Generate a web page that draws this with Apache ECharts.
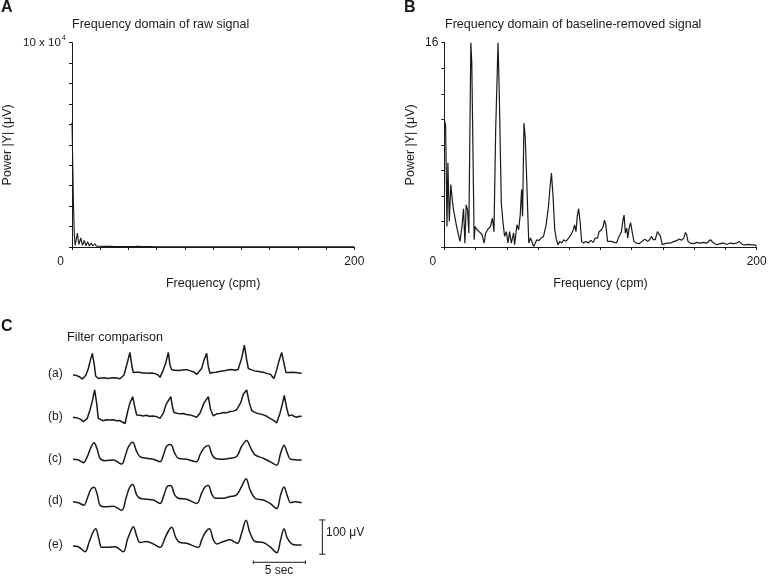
<!DOCTYPE html>
<html>
<head>
<meta charset="utf-8">
<script src="https://cdn.jsdelivr.net/npm/echarts@6/dist/echarts.min.js"></script>
<style>
html,body{margin:0;padding:0;background:#fff;}
#chart{width:770px;height:576px;}
</style>
</head>
<body>
<div id="chart"></div>
<script>
// ---------- DATA ----------
// Panel A: raw spectrum, [frequency (cpm), power (x10^4 µV)]
const rawSpectrum = [[0,6.1],[0.5,4.2],[1.0,2.2],[1.6,0.7],[2.2,0.08],[3.0,0.35],[3.8,0.68],[4.9,0.12],[6.2,0.45],[7.4,0.08],[8.7,0.32],[9.9,0.06],[11.1,0.26],[12.3,0.05],[13.5,0.2],[14.8,0.05],[16.1,0.16],[17.3,0.04],[18.6,0.13],[19.9,0.04],[21.2,0.11],[22.4,0.03],[23.7,0.1],[25.0,0.03],[26.3,0.08],[27.6,0.03],[28.9,0.07],[30.2,0.02],[31.5,0.06],[32.8,0.02],[34.1,0.05],[35.4,0.02],[36.7,0.04],[38,0.02],[39.3,0.04],[40.6,0.02],[42,0.03],[44,0.02],[46,0.03],[50,0.02],[55,0.02],[60,0.015],[70,0.01],[90,0.01],[120,0.01],[160,0.01],[200,0.01]];

// Panel B: baseline-removed spectrum, [frequency (cpm), power (µV)]
const cleanSpectrum = [[0,10.0],[0.85,9.5],[1.7,1.6],[2.3,6.6],[3.2,2.0],[4.2,4.9],[5.1,3.7],[5.9,2.9],[6.8,2.8],[7.9,1.6],[10.0,0.44],[11.3,1.6],[12.3,3.0],[13.2,0.3],[14.0,3.3],[14.9,2.9],[15.7,1.1],[17.0,16],[17.6,14.4],[19.1,0.57],[19.7,1.6],[21.0,1.35],[22.3,1.2],[23.4,1.35],[24.2,0.96],[25.5,0.31],[26.5,1.1],[28.0,1.4],[29.5,1.6],[30.8,2.26],[31.8,1.2],[32.9,9.2],[34.4,16],[35.2,12],[36.5,3.4],[37.6,1.9],[38.6,0.83],[39.7,1.2],[40.8,0.31],[41.8,1.2],[42.9,0.31],[44.4,1.1],[45.0,0.18],[46.5,1.74],[47.6,1.35],[48.6,2.5],[49.5,4.5],[50.1,2.4],[51.0,9.7],[51.8,8.6],[52.7,5.5],[53.5,2.4],[54.1,0.31],[55.2,0.7],[56.3,0.57],[57.1,0.05],[58.2,0.3],[59.2,0.57],[60.5,0.5],[62.0,0.7],[63.5,0.83],[65.2,1.74],[66.7,3.2],[67.7,4.7],[68.6,5.8],[69.6,4.0],[70.7,1.35],[71.8,0.57],[72.8,0.18],[73.9,0.44],[75.2,0.31],[76.4,0.57],[77.9,0.44],[79.6,0.7],[81.1,0.96],[82.6,1.35],[83.4,1.74],[84.3,1.2],[85.1,2.4],[86.0,3.0],[87.0,1.9],[87.9,0.44],[89.2,0.31],[90.7,0.44],[92.1,0.31],[93.8,0.52],[95.3,0.36],[96.6,0.7],[98.1,0.7],[99.1,1.2],[100.6,1.35],[101.7,1.6],[102.5,2.1],[103.4,1.74],[104.5,0.44],[105.5,0.31],[107.0,0.44],[108.7,0.36],[110.2,0.31],[111.9,0.83],[113.4,1.2],[114.4,2.1],[115.1,2.5],[115.9,1.1],[116.8,1.48],[117.4,0.7],[118.5,1.6],[119.3,1.9],[120.4,1.1],[121.4,0.44],[122.9,0.31],[124.6,0.26],[126.7,0.44],[128.4,0.62],[129.3,0.7],[130.1,0.44],[131.4,0.57],[132.7,0.83],[133.7,0.57],[135.0,0.57],[136.5,1.2],[137.4,1.35],[138.4,0.83],[139.5,0.18],[141.2,0.26],[142.9,0.31],[144.8,0.31],[146.9,0.42],[149.0,0.52],[150.5,0.62],[151.8,0.52],[153.3,0.7],[154.4,1.14],[155.2,0.96],[156.0,0.44],[157.5,0.31],[159.7,0.26],[161.8,0.36],[163.9,0.31],[166.0,0.36],[168.1,0.31],[170.4,0.57],[171.3,0.62],[172.4,0.31],[174.5,0.18],[176.6,0.26],[178.8,0.31],[180.9,0.2],[183.0,0.31],[185.1,0.26],[187.3,0.31],[188.8,0.44],[189.8,0.52],[190.9,0.18],[192.6,0.16],[194.7,0.2],[196.8,0.16],[198.9,0.16],[200,0.05]];

// Panel C: filtered time traces, [time (s), amplitude (µV)]
const traceA = [[0,0],[0.15,-2],[0.3,-1],[0.45,-6],[0.6,-5],[0.75,-9],[0.9,-12],[0.99,-15],[1.24,0],[1.47,19],[1.63,39],[1.85,63],[2.04,29],[2.17,-3],[2.42,-10],[2.55,-6],[2.7,-9],[2.85,-5],[3.0,-8],[3.15,-6],[3.3,-10],[3.45,-7],[3.6,-9],[3.75,-6],[3.9,-8],[4.05,-5],[4.2,-9],[4.35,-7],[4.5,-11],[4.66,-15],[4.88,0],[5.14,29],[5.45,66],[5.65,24],[5.77,7],[5.9,10],[6.05,8],[6.2,11],[6.35,8],[6.5,10],[6.65,6],[6.8,9],[6.95,6],[7.1,8],[7.25,5],[7.4,9],[7.55,6],[7.7,8],[7.85,4],[8.0,5],[8.15,0],[8.33,-7],[8.64,15],[8.87,34],[9.12,66],[9.28,29],[9.44,15],[9.6,12],[9.75,14],[9.9,11],[10.05,13],[10.2,11],[10.35,14],[10.5,12],[10.65,15],[10.8,13],[10.95,15],[11.1,11],[11.25,12],[11.4,8],[11.55,9],[11.7,5],[11.85,2],[11.99,-3],[12.31,19],[12.54,44],[12.79,63],[12.95,24],[13.11,5],[13.25,9],[13.4,7],[13.55,10],[13.7,8],[13.85,12],[14.0,10],[14.15,14],[14.3,12],[14.45,15],[14.6,13],[14.75,17],[14.9,15],[15.05,19],[15.2,16],[15.35,18],[15.5,14],[15.66,13],[15.8,16],[15.92,19],[16.14,49],[16.4,87],[16.62,44],[16.78,19],[16.95,14],[17.1,15],[17.25,11],[17.4,12],[17.55,9],[17.7,11],[17.85,7],[18.0,9],[18.15,5],[18.3,7],[18.45,3],[18.6,4],[18.75,1],[18.9,2],[19.05,-4],[19.23,-10],[19.49,15],[19.74,44],[19.97,66],[20.19,34],[20.38,7],[20.55,4],[20.7,7],[20.85,5],[21.0,8],[21.15,5],[21.3,7],[21.45,4],[21.6,6],[21.75,4],[21.88,5]];
const traceB = [[0,0],[0.25,-1],[0.51,-3],[0.75,-6],[0.99,-13],[1.37,-3],[1.63,22],[1.85,47],[2.07,80],[2.26,42],[2.42,-3],[2.6,-7],[2.9,-10],[3.2,-7],[3.54,-8],[3.85,-7],[4.18,-10],[4.45,-9],[4.66,-13],[4.98,-18],[5.23,17],[5.45,42],[5.71,60],[5.90,32],[6.09,7],[6.4,6],[6.73,4],[7.0,6],[7.3,3],[7.69,4],[8.0,2],[8.33,-3],[8.64,12],[8.90,37],[9.35,60],[9.54,27],[9.67,14],[9.95,12],[10.24,10],[10.55,11],[10.85,8],[11.20,7],[11.5,4],[11.83,0],[12.15,12],[12.54,42],[12.95,60],[13.17,22],[13.43,4],[13.75,10],[14.05,11],[14.39,14],[14.7,13],[15.02,17],[15.35,18],[15.66,22],[16.04,42],[16.30,67],[16.62,80],[16.87,42],[17.10,20],[17.35,15],[17.58,12],[17.9,10],[18.21,7],[18.55,3],[18.85,-3],[19.2,-9],[19.49,-16],[19.81,12],[20.06,42],[20.22,64],[20.45,27],[20.64,4],[20.93,7],[21.15,3],[21.40,0],[21.65,3],[21.88,2]];
const traceC = [[0,0],[0.51,-2],[0.99,-10],[1.37,8],[1.69,33],[2.01,48],[2.33,28],[2.58,3],[3.06,-4],[3.86,-2],[4.66,-14],[4.98,8],[5.30,36],[5.71,50],[6.09,23],[6.41,8],[7.05,3],[7.69,0],[8.33,-7],[8.71,18],[8.96,38],[9.35,43],[9.73,18],[10.08,3],[10.88,0],[11.83,-7],[12.15,13],[12.54,33],[12.95,40],[13.27,16],[13.59,3],[14.39,0],[15.02,3],[15.66,8],[16.14,38],[16.62,55],[17.00,33],[17.42,13],[18.21,3],[18.85,-7],[19.49,-17],[19.87,18],[20.19,41],[20.51,18],[20.83,0],[21.88,-2]];
const traceD = [[0,0],[0.51,-3],[1.05,-10],[1.37,10],[1.69,35],[2.01,42],[2.33,20],[2.58,-10],[3.06,-15],[3.86,-13],[4.66,-25],[5.07,10],[5.39,40],[5.71,50],[6.09,20],[6.41,10],[7.05,7],[7.69,5],[8.33,-5],[8.71,20],[9.03,45],[9.35,47],[9.73,20],[10.08,10],[10.88,7],[11.83,-5],[12.31,25],[12.63,43],[12.95,47],[13.27,23],[13.59,10],[14.39,10],[15.02,15],[15.66,20],[16.14,45],[16.56,67],[16.94,35],[17.42,10],[18.21,5],[18.85,-5],[19.49,-20],[19.87,20],[20.19,43],[20.51,17],[20.83,-3],[21.24,0],[21.88,-3]];
const traceE = [[0,0],[0.51,-2],[1.15,-17],[1.56,13],[1.88,38],[2.17,50],[2.46,23],[2.74,-4],[3.22,-4],[4.02,-2],[4.82,-17],[5.20,18],[5.52,43],[5.77,56],[6.09,30],[6.41,10],[7.05,13],[7.69,6],[8.33,-4],[8.80,23],[9.12,43],[9.44,55],[9.86,23],[10.24,10],[10.88,8],[11.99,-4],[12.31,18],[12.63,38],[13.05,50],[13.43,18],[13.75,6],[14.39,13],[15.02,18],[15.73,8],[16.14,38],[16.56,75],[16.94,38],[17.42,13],[18.21,10],[18.85,-2],[19.49,-20],[19.87,18],[20.19,50],[20.51,23],[20.93,6],[21.40,3],[21.88,3]];

const traceLabels = ['(a)','(b)','(c)','(d)','(e)'];
const traceSmooth = [false,false,0.35,0.35,0.35];
const scaleSec = 5;      // time scale bar (s)
const scaleMicroV = 100; // amplitude scale bar (µV)

// ---------- LAYOUT ----------
const FONT = '"Liberation Sans", Arial, sans-serif';
const INK = '#1a1a1a';
const traces = [traceA, traceB, traceC, traceD, traceE];
const baselineY = [375, 417.3, 459.3, 501.7, 546];
const pxPerUV = 0.343, pxPerSec = 10.45;
const tMin = 0, tMax = 26, uvMin = -70, uvMax = 110;

const grids = [
  {left:71, top:42.7, width:283.3, height:204.3},
  {left:444.3, top:42.7, width:312.4, height:204.3}
];
baselineY.forEach(b => grids.push({
  left:73, top:b - uvMax*pxPerUV, width:(tMax - tMin)*pxPerSec, height:(uvMax - uvMin)*pxPerUV
}));

const axisLineStyle = {lineStyle:{color:INK, width:1}};
function specX(gi){
  return {type:'value', gridIndex:gi, min:0, max:200, interval:20,
    axisLine:axisLineStyle, axisTick:{show:true, length:3, lineStyle:{color:INK}},
    splitLine:{show:false},
    axisLabel:{color:INK, fontFamily:FONT, fontSize:12, margin:9,
      formatter: v => v===0 ? '{z|0}' : (v===200 ? '200' : ''),
      rich:{z:{padding:[0,23,0,0], fontFamily:FONT, fontSize:12, color:INK}}},
    name:'Frequency (cpm)', nameLocation:'middle', nameGap:30,
    nameTextStyle:{color:INK, fontFamily:FONT, fontSize:12.5}};
}
function specY(gi, max, interval, fmt, gap){
  return {type:'value', gridIndex:gi, min:0, max:max, interval:interval,
    axisLine:{show:true, lineStyle:{color:INK, width:1}},
    axisTick:{show:true, length:3, lineStyle:{color:INK}},
    splitLine:{show:false},
    axisLabel:{color:INK, fontFamily:FONT, fontSize:12, margin:6, formatter:fmt,
      rich:{b:{fontFamily:FONT, fontSize:11.5, color:INK},
            s:{fontFamily:FONT, fontSize:7.5, color:INK, verticalAlign:'top', padding:[0,0,9,1]}}},
    name:'Power |Y| (\u03bcV)', nameLocation:'middle', nameGap:gap, nameRotate:90,
    nameTextStyle:{color:INK, fontFamily:FONT, fontSize:12.5}};
}

const xAxes = [specX(0), specX(1)];
const yAxes = [
  specY(0, 10, 1, v => v===10 ? '{b|10 x 10}{s|4}' : '', 58),
  specY(1, 16, 2, v => v===16 ? '16' : '', 27)
];
for (let i=0;i<5;i++){
  xAxes.push({type:'value', gridIndex:i+2, min:tMin, max:tMax, show:false});
  yAxes.push({type:'value', gridIndex:i+2, min:uvMin, max:uvMax, show:false});
}

const series = [
  {type:'line', xAxisIndex:0, yAxisIndex:0, data:rawSpectrum, showSymbol:false,
   lineStyle:{color:INK, width:1.1}, clip:true},
  {type:'line', xAxisIndex:1, yAxisIndex:1, data:cleanSpectrum, showSymbol:false,
   lineStyle:{color:INK, width:1.2}, clip:true}
];
traces.forEach((tr,i) => series.push({
  type:'line', xAxisIndex:i+2, yAxisIndex:i+2, data:tr, showSymbol:false,
  smooth:traceSmooth[i], lineStyle:{color:INK, width:1.5}
}));

// scale bars, drawn in the (e) trace's coordinate system
const hBarStart = 17.25, hBarLevel = -47.5;
const vBarTime = 23.86, vBarBottom = -24;
const segs = [
  [[hBarStart, hBarLevel],[hBarStart+scaleSec, hBarLevel]],
  [[hBarStart, hBarLevel-5],[hBarStart, hBarLevel+5]],
  [[hBarStart+scaleSec, hBarLevel-5],[hBarStart+scaleSec, hBarLevel+5]],
  [[vBarTime, vBarBottom],[vBarTime, vBarBottom+scaleMicroV]],
  [[vBarTime-0.3, vBarBottom],[vBarTime+0.3, vBarBottom]],
  [[vBarTime-0.3, vBarBottom+scaleMicroV],[vBarTime+0.3, vBarBottom+scaleMicroV]]
];
segs.forEach(s => series.push({type:'line', xAxisIndex:6, yAxisIndex:6, data:s,
  showSymbol:false, lineStyle:{color:INK, width:1}}));

function txt(text, x, y, size, weight, align, valign){
  return {type:'text', x:x, y:y, style:{text:text, fill:INK,
    font:(weight||'normal')+' '+size+'px '+FONT,
    textAlign:align||'left', textVerticalAlign:valign||'middle',
    align:align||'left', verticalAlign:valign||'middle'}};
}
const graphics = [
  txt('A', 1, 8, 16, 'bold'),
  txt('B', 404, 8, 16, 'bold'),
  txt('C', 1, 327, 16, 'bold'),
  txt('Frequency domain of raw signal', 72, 25, 12.5),
  txt('Frequency domain of baseline-removed signal', 445, 25, 12.5),
  txt('Filter comparison', 67, 338, 12.5),
  txt('100 \u03bcV', 326, 533, 12),
  txt('5 sec', 279, 571, 12, 'normal', 'center')
];
traceLabels.forEach((l,i) => graphics.push(txt(l, 48, baselineY[i]-1, 12)));

const chart = echarts.init(document.getElementById('chart'), null, {renderer:'canvas'});
chart.setOption({
  animation:false,
  backgroundColor:'#fff',
  grid:grids, xAxis:xAxes, yAxis:yAxes, series:series, graphic:graphics
});
</script>
</body>
</html>
